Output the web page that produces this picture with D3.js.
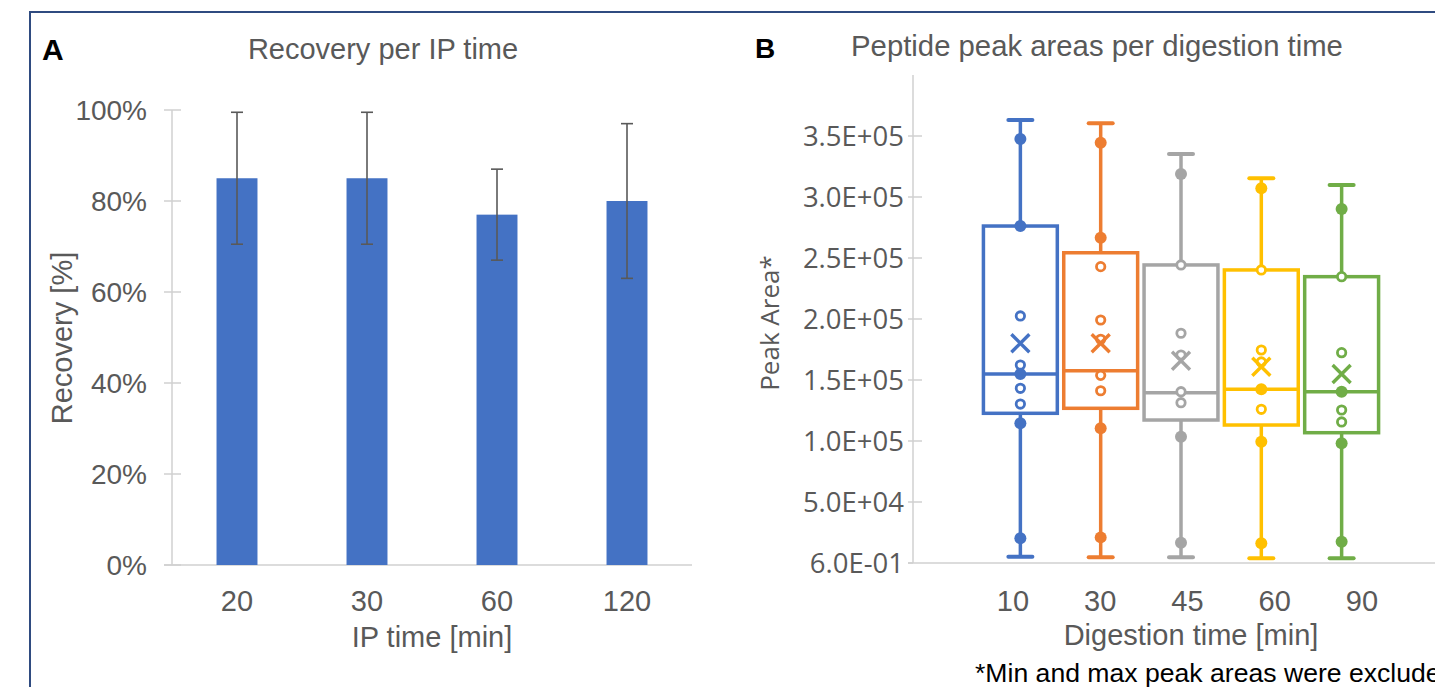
<!DOCTYPE html>
<html>
<head>
<meta charset="utf-8">
<script src="https://cdn.jsdelivr.net/npm/d3@7"></script>
<style>
  body { margin: 0; background: #fff; }
  svg text { font-family: "Liberation Sans", Arial, sans-serif; fill: #595959; }
</style>
</head>
<body>
<div id="chart"></div>
<script>
// DATA - panel A
const ipTimes = ["20", "30", "60", "120"];
const recovery = [0.85, 0.85, 0.77, 0.80];
const recoveryErr = [0.145, 0.145, 0.10, 0.17];
const recoveryTicks = [0, 0.2, 0.4, 0.6, 0.8, 1.0];

// DATA - panel B (box plots)
const digestTimes = ["10", "30", "45", "60", "90"];
const whiskerLow = [5200, 4700, 4700, 3800, 3800];
const q1 = [122700, 126800, 117200, 113100, 106800];
const median = [154900, 157600, 139600, 142400, 140400];
const q3 = [276200, 254300, 244300, 240200, 234700];
const whiskerHigh = [363100, 360400, 335200, 315300, 309800];
const means = [180100, 180100, 165800, 160900, 154900];
const filledPoints = [
    [347500, 276200, 154900, 114500, 20200],
    [344500, 266600, 110400, 21000],
    [318900, 103500, 16600],
    [307100, 142400, 99400, 16100],
    [290200, 140400, 98100, 17500]
];
const openPoints = [
    [202500, 162300, 143200, 130300],
    [242900, 199200, 183400, 153800, 141200],
    [244300, 188300, 170500, 140400, 131400],
    [240200, 174600, 164800, 126000],
    [234700, 172400, 125400, 115600]
];
const peakTicks = [0.6, 50000, 100000, 150000, 200000, 250000, 300000, 350000];
const boxColors = ["#4472c4", "#ed7d31", "#a5a5a5", "#ffc000", "#70ad47"];

// CONSTANTS
const width = 1435, height = 687;
const axisColor = "#d0d0d0";
const fs = "29px";

const svg = d3.select("#chart").append("svg")
    .attr("width", width)
    .attr("height", height);

// frame
svg.append("path")
    .attr("d", `M30,${height} L30,12 L${width},12`)
    .attr("fill", "none")
    .attr("stroke", "#2f4b80")
    .attr("stroke-width", 2);

// ---------- PANEL A ----------
const xA = d3.scaleBand()
    .domain(ipTimes)
    .range([172, 692])
    .paddingInner(0.685)
    .paddingOuter(0.3425);

const yA = d3.scaleLinear()
    .domain([0, 1])
    .range([565, 110]);

const gA = svg.append("g");

// y axis
gA.append("line")
    .attr("x1", 172).attr("x2", 172)
    .attr("y1", yA(1)).attr("y2", yA(0))
    .attr("stroke", axisColor).attr("stroke-width", 1.5);
gA.selectAll(".ytickA")
    .data(recoveryTicks)
    .join("line")
    .attr("x1", 164).attr("x2", 181)
    .attr("y1", d => yA(d)).attr("y2", d => yA(d))
    .attr("stroke", axisColor).attr("stroke-width", 1.5);
gA.selectAll(".ylabA")
    .data(recoveryTicks)
    .join("text")
    .attr("x", 147)
    .attr("y", d => yA(d))
    .attr("dy", "0.36em")
    .attr("text-anchor", "end")
    .style("font-size", "28px")
    .text(d3.format(".0%"));

// x axis
gA.append("line")
    .attr("x1", 164).attr("x2", 692)
    .attr("y1", yA(0)).attr("y2", yA(0))
    .attr("stroke", axisColor).attr("stroke-width", 1.5);

// bars
gA.selectAll(".bar")
    .data(ipTimes)
    .join("rect")
    .attr("x", d => xA(d))
    .attr("width", xA.bandwidth())
    .attr("y", (d, i) => yA(recovery[i]))
    .attr("height", (d, i) => yA(0) - yA(recovery[i]))
    .attr("fill", "#4472c4");

// error bars
const errG = gA.selectAll(".err")
    .data(ipTimes)
    .join("g")
    .attr("stroke", "#595959")
    .attr("stroke-width", 1.6);
errG.append("line")
    .attr("x1", d => xA(d) + xA.bandwidth() / 2)
    .attr("x2", d => xA(d) + xA.bandwidth() / 2)
    .attr("y1", (d, i) => yA(recovery[i] + recoveryErr[i]))
    .attr("y2", (d, i) => yA(recovery[i] - recoveryErr[i]));
errG.append("line")
    .attr("x1", d => xA(d) + xA.bandwidth() / 2 - 6)
    .attr("x2", d => xA(d) + xA.bandwidth() / 2 + 6)
    .attr("y1", (d, i) => yA(recovery[i] + recoveryErr[i]))
    .attr("y2", (d, i) => yA(recovery[i] + recoveryErr[i]));
errG.append("line")
    .attr("x1", d => xA(d) + xA.bandwidth() / 2 - 6)
    .attr("x2", d => xA(d) + xA.bandwidth() / 2 + 6)
    .attr("y1", (d, i) => yA(recovery[i] - recoveryErr[i]))
    .attr("y2", (d, i) => yA(recovery[i] - recoveryErr[i]));

// x labels
gA.selectAll(".xlabA")
    .data(ipTimes)
    .join("text")
    .attr("x", d => xA(d) + xA.bandwidth() / 2)
    .attr("y", 611)
    .attr("text-anchor", "middle")
    .style("font-size", fs)
    .text(d => d);

gA.append("text")
    .attr("x", 432).attr("y", 647)
    .attr("text-anchor", "middle")
    .style("font-size", fs)
    .text("IP time [min]");

gA.append("text")
    .attr("transform", "translate(72,338) rotate(-90)")
    .attr("text-anchor", "middle")
    .style("font-size", fs)
    .text("Recovery [%]");

gA.append("text")
    .attr("x", 383).attr("y", 59)
    .attr("text-anchor", "middle")
    .style("font-size", fs)
    .text("Recovery per IP time");

gA.append("text")
    .attr("x", 42).attr("y", 60)
    .style("font-size", "30px")
    .style("font-weight", "bold")
    .style("fill", "#000")
    .text("A");

// ---------- PANEL B ----------
const xB = d3.scaleBand()
    .domain(digestTimes)
    .range([977, 1385])
    .padding(0.08);

const xLab = d3.scalePoint()
    .domain(digestTimes)
    .range([1013, 1362]);

const yB = d3.scaleLinear()
    .domain([0.6, 400000])
    .range([563, 75]);

function sci(v) {
    const s = d3.format(".1e")(v).split("e");
    const exp = +s[1];
    return s[0] + "E" + (exp < 0 ? "-" : "+") + String(Math.abs(exp)).padStart(2, "0");
}

const gB = svg.append("g");

gB.append("line")
    .attr("x1", 913).attr("x2", 913)
    .attr("y1", yB(400000)).attr("y2", yB(0.6))
    .attr("stroke", axisColor).attr("stroke-width", 1.5);
gB.selectAll(".ytickB")
    .data(peakTicks)
    .join("line")
    .attr("x1", 908).attr("x2", d => d < 1 ? 913 : 922)
    .attr("y1", d => yB(d)).attr("y2", d => yB(d))
    .attr("stroke", axisColor).attr("stroke-width", 1.5);
gB.selectAll(".ylabB")
    .data(peakTicks)
    .join("text")
    .attr("x", 904)
    .attr("y", d => yB(d))
    .attr("dy", "0.36em")
    .attr("text-anchor", "end")
    .style("font-family", "'Open Sans', 'Noto Sans', sans-serif")
    .style("font-size", "27.5px")
    .text(sci);

gB.append("line")
    .attr("x1", 908).attr("x2", width)
    .attr("y1", yB(0.6)).attr("y2", yB(0.6))
    .attr("stroke", axisColor).attr("stroke-width", 1.5);

// boxes
gB.selectAll(".box")
    .data(digestTimes)
    .join("g")
    .attr("class", "box")
    .each(function (d, i) {
        const g = d3.select(this);
        const c = boxColors[i];
        const x0 = xB(d), bw = xB.bandwidth(), cx = x0 + bw / 2;
        g.append("line")
            .attr("x1", cx).attr("x2", cx)
            .attr("y1", yB(whiskerLow[i])).attr("y2", yB(whiskerHigh[i]))
            .attr("stroke", c).attr("stroke-width", 3.5);
        [whiskerLow[i], whiskerHigh[i]].forEach(v => {
            g.append("line")
                .attr("x1", cx - 12).attr("x2", cx + 12)
                .attr("y1", yB(v)).attr("y2", yB(v))
                .attr("stroke", c).attr("stroke-width", 4)
                .attr("stroke-linecap", "round");
        });
        g.append("rect")
            .attr("x", x0).attr("width", bw)
            .attr("y", yB(q3[i])).attr("height", yB(q1[i]) - yB(q3[i]))
            .attr("fill", "#fff")
            .attr("stroke", c).attr("stroke-width", 3.5);
        g.append("line")
            .attr("x1", x0).attr("x2", x0 + bw)
            .attr("y1", yB(median[i])).attr("y2", yB(median[i]))
            .attr("stroke", c).attr("stroke-width", 3.5);
        g.selectAll(".fp")
            .data(filledPoints[i])
            .join("circle")
            .attr("cx", cx).attr("cy", v => yB(v))
            .attr("r", 6)
            .attr("fill", c);
        g.selectAll(".op")
            .data(openPoints[i])
            .join("circle")
            .attr("class", "op")
            .attr("cx", cx).attr("cy", v => yB(v))
            .attr("r", 4.2)
            .attr("fill", "#fff")
            .attr("stroke", c).attr("stroke-width", 2.8);
        const my = yB(means[i]), s = 9;
        g.append("path")
            .attr("d", `M${cx - s},${my - s}L${cx + s},${my + s}M${cx - s},${my + s}L${cx + s},${my - s}`)
            .attr("stroke", c).attr("stroke-width", 3.4)
            .attr("fill", "none");
    });

gB.selectAll(".xlabB")
    .data(digestTimes)
    .join("text")
    .attr("x", d => xLab(d))
    .attr("y", 611)
    .attr("text-anchor", "middle")
    .style("font-size", fs)
    .text(d => d);

gB.append("text")
    .attr("x", 1191).attr("y", 645)
    .attr("text-anchor", "middle")
    .style("font-size", fs)
    .text("Digestion time [min]");

gB.append("text")
    .attr("transform", "translate(779,323) rotate(-90)")
    .attr("text-anchor", "middle")
    .style("font-family", "'Open Sans', 'Noto Sans', sans-serif")
    .style("font-size", "26px")
    .text("Peak Area*");

gB.append("text")
    .attr("x", 1097).attr("y", 56)
    .attr("text-anchor", "middle")
    .style("font-size", "29.3px")
    .text("Peptide peak areas per digestion time");

gB.append("text")
    .attr("x", 755).attr("y", 58)
    .style("font-size", "28px")
    .style("font-weight", "bold")
    .style("fill", "#000")
    .text("B");

// footnote runs past the right edge, as in the source figure
gB.append("text")
    .attr("x", 975).attr("y", 682)
    .style("font-size", "26.6px")
    .style("fill", "#000")
    .text("*Min and max peak areas were excluded");
</script>
</body>
</html>
